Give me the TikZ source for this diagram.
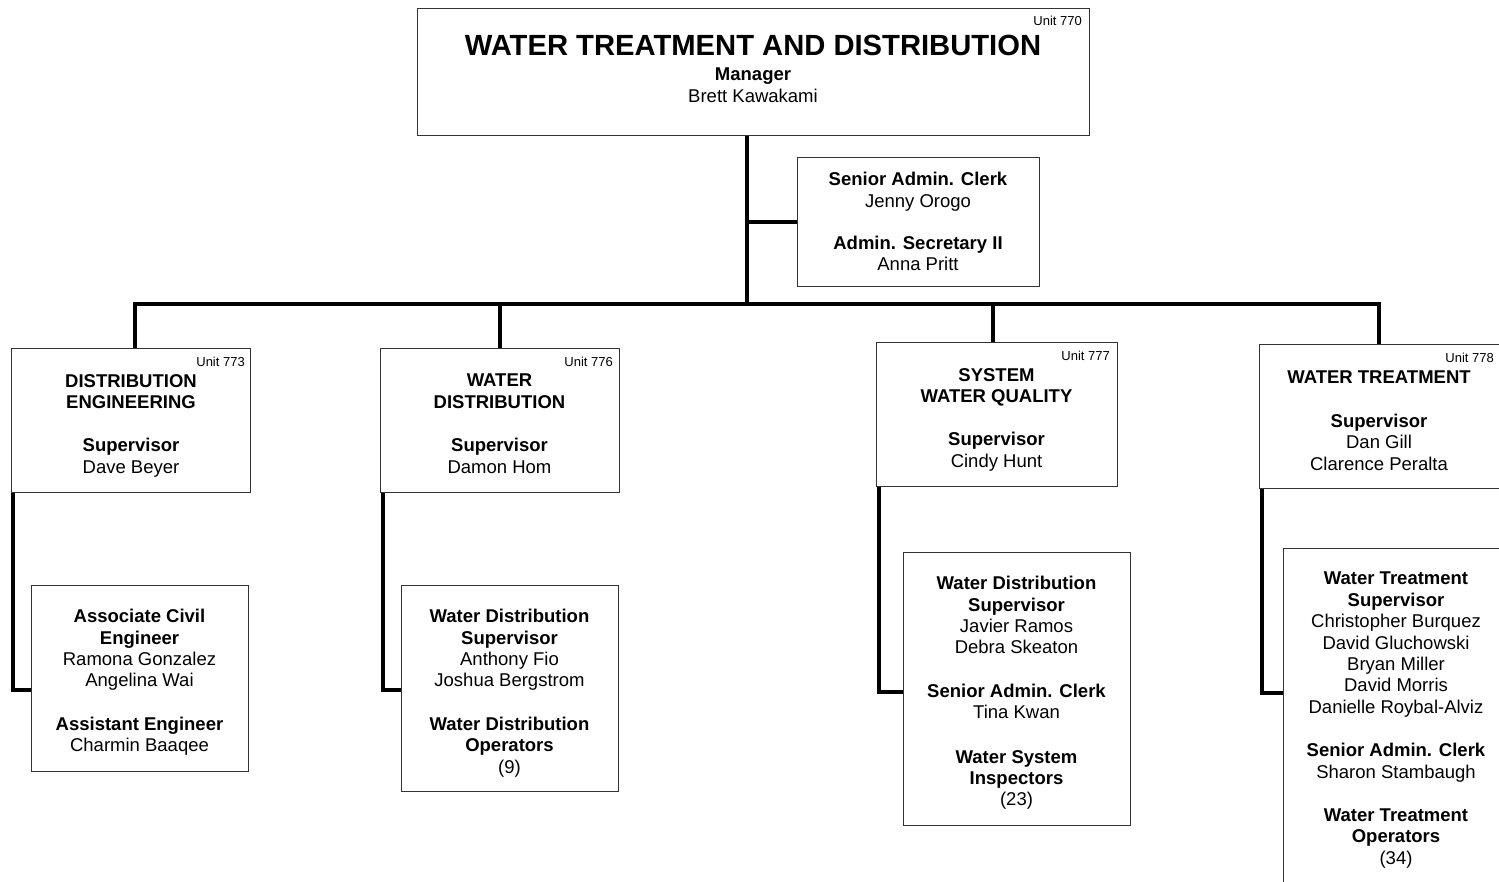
\documentclass[tikz,border=0pt]{standalone}
\usepackage{fontspec}
\setmainfont{Liberation Sans}
\newcommand{\orggap}{\\[22pt]}
\begin{document}
\begin{tikzpicture}[x=1pt,y=-1pt,
  box/.style={draw=black!80, line width=1.3pt, fill=white, inner sep=0pt, anchor=north west},
  conn/.style={line width=4pt, black},
  txt/.style={align=center, inner sep=0pt, anchor=north, font=\fontsize{18.5}{21.4}\selectfont},
  unitlbl/.style={inner sep=0pt, anchor=north east, font=\fontsize{13}{15}\selectfont}]
\clip (0,0) rectangle (1499,882);
\fill[white] (0,0) rectangle (1499,882);

% boxes
\node[box, minimum width=672, minimum height=127] (top) at (417,8) {};
\node[box, minimum width=242, minimum height=129] (adm) at (797,157) {};
\node[box, minimum width=239, minimum height=144] (b1) at (11,348) {};
\node[box, minimum width=239, minimum height=144] (b2) at (380,348) {};
\node[box, minimum width=241, minimum height=144] (b3) at (876,342) {};
\node[box, minimum width=251, minimum height=144] (b4) at (1259,344) {};
\node[box, minimum width=217, minimum height=186] (s1) at (31,585) {};
\node[box, minimum width=217, minimum height=206] (s2) at (401,585) {};
\node[box, minimum width=227, minimum height=273] (s3) at (903,552) {};
\node[box, minimum width=230, minimum height=350] (s4) at (1283,548) {};

% connectors
\coordinate (tj) at (747,304);
\coordinate (d1) at (135,304);
\coordinate (d2) at (500,304);
\coordinate (d3) at (993,304);
\coordinate (d4) at (1379,304);
\draw[conn] (top.south -| tj) -- (tj);
\draw[conn] (adm.west) -- (adm.west -| tj);
\draw[conn] (b1.north -| d1) -- (d1) -- (d4) -- (b4.north -| d4);
\draw[conn] (d2) -- (b2.north -| d2);
\draw[conn] (d3) -- (b3.north -| d3);

\coordinate (e1) at (13,690);
\coordinate (e2) at (383,690);
\coordinate (e3) at (879,692);
\coordinate (e4) at (1262,693);
\draw[conn] (b1.south -| e1) -- (e1) -- (s1.west |- e1);
\draw[conn] (b2.south -| e2) -- (e2) -- (s2.west |- e2);
\draw[conn] (b3.south -| e3) -- (e3) -- (s3.west |- e3);
\draw[conn] (b4.south -| e4) -- (e4) -- (s4.west |- e4);

% unit numbers
\node[unitlbl] (u770) at (1082,16) {Unit 770};
\node[unitlbl] (u773) at (245,357) {Unit 773};
\node[unitlbl] (u776) at (613,357) {Unit 776};
\node[unitlbl] (u777) at (1110,351) {Unit 777};
\node[unitlbl] (u778) at (1494,353) {Unit 778};

% texts
\node[inner sep=0pt, anchor=north, font=\fontsize{29.2}{32}\selectfont\bfseries] (ttl) at (753,35) {WATER TREATMENT AND DISTRIBUTION};
\node[txt] (tmgr) at (753,68) {\textbf{Manager}\\Brett Kawakami};
\node[txt] (tadm) at (918,172) {\textbf{Senior Admin. Clerk}\\Jenny Orogo\\[21pt]\textbf{Admin. Secretary II}\\Anna Pritt};
\node[txt] (tb1) at (131,374) {\textbf{DISTRIBUTION}\\\textbf{ENGINEERING}\orggap\textbf{Supervisor}\\Dave Beyer};
\node[txt] (tb2) at (499.5,374) {\textbf{WATER}\\\textbf{DISTRIBUTION}\orggap\textbf{Supervisor}\\Damon Hom};
\node[txt] (tb3) at (996.5,368) {\textbf{SYSTEM}\\\textbf{WATER QUALITY}\orggap\textbf{Supervisor}\\Cindy Hunt};
\node[txt] (tb4) at (1379,371) {\textbf{WATER TREATMENT}\orggap\textbf{Supervisor}\\Dan Gill\\Clarence Peralta};
\node[txt] (ts1) at (139.5,609) {\textbf{Associate Civil}\\\textbf{Engineer}\\Ramona Gonzalez\\Angelina Wai\orggap\textbf{Assistant Engineer}\\Charmin Baaqee};
\node[txt] (ts2) at (509.5,609) {\textbf{Water Distribution}\\\textbf{Supervisor}\\Anthony Fio\\Joshua Bergstrom\orggap\textbf{Water Distribution}\\\textbf{Operators}\\(9)};
\node[txt] (ts3) at (1016.5,576) {\textbf{Water Distribution}\\\textbf{Supervisor}\\Javier Ramos\\Debra Skeaton\orggap\textbf{Senior Admin. Clerk}\\Tina Kwan\\[23pt]\textbf{Water System}\\\textbf{Inspectors}\\(23)};
\node[txt] (ts4) at (1396,572) {\textbf{Water Treatment}\\\textbf{Supervisor}\\Christopher Burquez\\David Gluchowski\\Bryan Miller\\David Morris\\Danielle Roybal-Alviz\orggap\textbf{Senior Admin. Clerk}\\Sharon Stambaugh\orggap\textbf{Water Treatment}\\\textbf{Operators}\\(34)};
\end{tikzpicture}
\end{document}
